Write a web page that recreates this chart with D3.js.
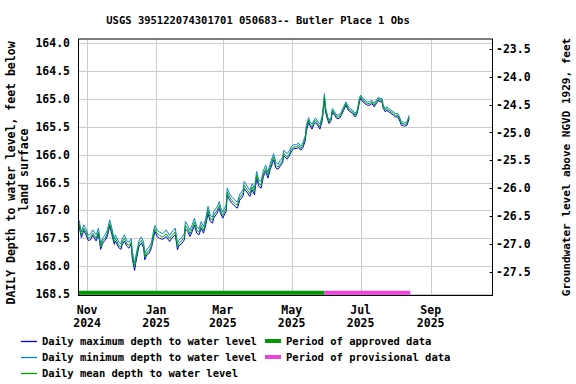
<!DOCTYPE html>
<html><head><meta charset="utf-8">
<script src="https://cdn.jsdelivr.net/npm/d3@7"></script>
<style>body{margin:0;background:#fff}svg{display:block}text{font-family:"DejaVu Sans Mono",monospace;font-weight:bold;fill:#000}</style>
</head><body>
<script>
const title = "USGS 395122074301701 050683-- Butler Place 1 Obs";
const leftTicks = [164.0,164.5,165.0,165.5,166.0,166.5,167.0,167.5,168.0,168.5];
const rightTicks = [-23.5,-24.0,-24.5,-25.0,-25.5,-26.0,-26.5,-27.0,-27.5];
const monthTicks = ["2024-11-01","2025-01-01","2025-03-01","2025-05-01","2025-07-01","2025-09-01"];
const monthLabels = [["Nov","2024"],["Jan","2025"],["Mar","2025"],["May","2025"],["Jul","2025"],["Sep","2025"]];
const datumOffset = 140.6;
const dates = [
"2024-10-25","2024-10-26","2024-10-27","2024-10-29","2024-10-31","2024-11-02","2024-11-04","2024-11-06","2024-11-09","2024-11-11","2024-11-13","2024-11-15","2024-11-17","2024-11-19","2024-11-21","2024-11-23","2024-11-25","2024-11-26","2024-11-29",
"2024-12-01","2024-12-02","2024-12-04","2024-12-06","2024-12-08","2024-12-10","2024-12-11","2024-12-13","2024-12-14","2024-12-16","2024-12-17","2024-12-19","2024-12-21","2024-12-22","2024-12-24","2024-12-26","2024-12-28","2024-12-30","2024-12-31",
"2025-01-02","2025-01-04","2025-01-07","2025-01-10","2025-01-13","2025-01-15","2025-01-18","2025-01-20","2025-01-21","2025-01-24","2025-01-26","2025-01-27","2025-01-29","2025-01-31",
"2025-02-02","2025-02-04","2025-02-06","2025-02-08","2025-02-10","2025-02-12","2025-02-14","2025-02-16","2025-02-18","2025-02-20","2025-02-21","2025-02-24","2025-02-26","2025-02-27",
"2025-03-01","2025-03-04","2025-03-05","2025-03-07","2025-03-09","2025-03-12","2025-03-14","2025-03-16","2025-03-19","2025-03-20","2025-03-23","2025-03-25","2025-03-27","2025-03-29","2025-03-31",
"2025-04-02","2025-04-04","2025-04-06","2025-04-08","2025-04-10","2025-04-12","2025-04-15","2025-04-17","2025-04-19","2025-04-21","2025-04-23","2025-04-24","2025-04-27","2025-04-29",
"2025-05-01","2025-05-03","2025-05-05","2025-05-07","2025-05-09","2025-05-11","2025-05-13","2025-05-14","2025-05-16","2025-05-17","2025-05-19","2025-05-21","2025-05-22","2025-05-24","2025-05-26","2025-05-28","2025-05-29","2025-05-30","2025-05-31",
"2025-06-02","2025-06-03","2025-06-05","2025-06-06","2025-06-08","2025-06-10","2025-06-12","2025-06-14","2025-06-16","2025-06-18","2025-06-20","2025-06-22","2025-06-24","2025-06-26","2025-06-28","2025-06-30",
"2025-07-01","2025-07-03","2025-07-05","2025-07-07","2025-07-09","2025-07-11","2025-07-13","2025-07-15","2025-07-17","2025-07-18","2025-07-20","2025-07-21","2025-07-23","2025-07-24","2025-07-26","2025-07-28","2025-07-30",
"2025-08-01","2025-08-03","2025-08-05","2025-08-06","2025-08-08","2025-08-09","2025-08-11","2025-08-12","2025-08-13"];
const meanDepth = [
167.24,167.36,167.45,167.32,167.39,167.50,167.48,167.41,167.50,167.39,167.66,167.54,167.50,167.41,167.24,167.39,167.57,167.50,167.63,
167.66,167.57,167.50,167.60,167.63,167.57,167.81,168.02,167.90,167.69,167.60,167.54,167.63,167.84,167.75,167.72,167.63,167.42,167.33,
167.42,167.45,167.48,167.42,167.51,167.45,167.39,167.66,167.60,167.54,167.48,167.27,167.33,167.42,
167.33,167.21,167.36,167.39,167.27,167.36,167.21,167.00,167.15,167.18,167.09,167.00,166.91,167.00,
167.09,166.97,166.67,166.76,166.82,166.88,166.91,166.77,166.69,166.55,166.64,166.70,166.58,166.67,166.37,
166.52,166.55,166.34,166.25,166.37,166.22,166.04,166.19,166.22,166.16,166.10,165.98,166.04,165.98,
165.89,165.86,165.86,165.83,165.89,165.83,165.71,165.53,165.38,165.44,165.50,165.41,165.38,165.44,165.50,165.35,165.18,164.96,165.20,
165.35,165.41,165.35,165.20,165.26,165.32,165.32,165.26,165.17,165.08,165.17,165.20,165.23,165.29,165.23,165.02,
164.96,165.02,165.05,165.08,165.08,165.05,165.11,165.05,164.99,165.02,165.02,165.14,165.20,165.17,165.20,165.23,165.26,
165.29,165.29,165.38,165.44,165.44,165.46,165.44,165.38,165.32];
const maxDepth = [
167.28,167.40,167.49,167.36,167.44,167.54,167.53,167.45,167.55,167.43,167.70,167.58,167.54,167.46,167.28,167.44,167.61,167.55,167.67,
167.70,167.62,167.55,167.64,167.68,167.61,167.87,168.08,167.95,167.74,167.64,167.59,167.67,167.89,167.79,167.77,167.67,167.47,167.38,
167.47,167.50,167.52,167.47,167.56,167.50,167.44,167.71,167.64,167.59,167.53,167.33,167.38,167.47,
167.38,167.27,167.41,167.44,167.32,167.41,167.26,167.06,167.20,167.23,167.14,167.05,166.96,167.05,
167.14,167.02,166.73,166.81,166.87,166.93,166.96,166.82,166.74,166.61,166.69,166.75,166.63,166.72,166.43,
166.57,166.60,166.39,166.30,166.42,166.27,166.09,166.24,166.26,166.20,166.14,166.02,166.08,166.02,
165.93,165.89,165.89,165.87,165.92,165.87,165.75,165.57,165.42,165.47,165.54,165.44,165.42,165.47,165.54,165.39,165.22,165.01,165.24,
165.38,165.44,165.38,165.23,165.29,165.35,165.35,165.29,165.20,165.11,165.20,165.23,165.26,165.32,165.26,165.05,
164.99,165.05,165.08,165.11,165.11,165.08,165.14,165.08,165.02,165.05,165.05,165.17,165.23,165.20,165.23,165.26,165.29,
165.32,165.32,165.41,165.47,165.47,165.49,165.47,165.41,165.35];
const minDepth = [
167.18,167.30,167.39,167.26,167.33,167.45,167.42,167.35,167.44,167.32,167.60,167.49,167.44,167.35,167.17,167.33,167.51,167.44,167.57,
167.60,167.51,167.44,167.54,167.57,167.51,167.74,167.95,167.83,167.63,167.54,167.48,167.57,167.78,167.69,167.66,167.57,167.35,167.27,
167.36,167.39,167.42,167.35,167.45,167.39,167.32,167.59,167.54,167.48,167.42,167.20,167.27,167.36,
167.26,167.14,167.30,167.33,167.20,167.29,167.14,166.93,167.09,167.12,167.02,166.94,166.84,166.94,
167.03,166.90,166.60,166.70,166.76,166.82,166.85,166.71,166.63,166.48,166.58,166.64,166.52,166.61,166.30,
166.46,166.48,166.28,166.19,166.31,166.16,165.98,166.13,166.17,166.10,166.05,165.92,165.98,165.93,
165.84,165.82,165.82,165.79,165.85,165.78,165.66,165.47,165.33,165.40,165.45,165.37,165.34,165.40,165.45,165.30,165.12,164.90,165.15,
165.32,165.38,165.32,165.17,165.23,165.29,165.28,165.23,165.14,165.05,165.14,165.17,165.20,165.26,165.20,164.98,
164.93,164.99,165.02,165.05,165.05,165.02,165.08,165.02,164.96,164.99,164.99,165.11,165.17,165.14,165.17,165.20,165.23,
165.26,165.26,165.35,165.41,165.41,165.43,165.41,165.35,165.29];
const approvedPeriod = ["2024-10-24","2025-05-30"];
const provisionalPeriod = ["2025-05-30","2025-08-14"];
const legendLines = ["Daily maximum depth to water level","Daily minimum depth to water level","Daily mean depth to water level"];
const legendBars = ["Period of approved data","Period of provisional data"];

const W = 576, H = 384;
const L = 78.5, R = 492.5, T = 39, B = 295.5;
const parse = d3.utcParse("%Y-%m-%d");
const cMax = "#0000ee", cMin = "#0a84cc", cMean = "#00a000", cAppr = "#009900", cProv = "#ee44dd";

const svg = d3.select("body").append("svg").attr("width", W).attr("height", H);
const x = d3.scaleUtc().domain([Date.UTC(2024,9,24,9), Date.UTC(2025,9,25,17)]).range([L, R]);
const y = d3.scaleLinear().domain([163.92, 168.53]).range([T, B]);
const yR = d3.scaleLinear().domain([datumOffset-163.92, datumOffset-168.53]).range([T, B]);

// grid
const grid = svg.append("g").attr("stroke", "#cccccc").attr("stroke-width", 1);
grid.selectAll(".h").data(leftTicks).join("line")
  .attr("x1", L).attr("x2", R).attr("y1", d => Math.round(y(d))+0.5).attr("y2", d => Math.round(y(d))+0.5);
grid.selectAll(".v").data(monthTicks).join("line")
  .attr("y1", T).attr("y2", B).attr("x1", d => Math.round(x(parse(d)))+0.5).attr("x2", d => Math.round(x(parse(d)))+0.5);

// period bars
const barY = y(168.5) - 1;
[[approvedPeriod, cAppr], [provisionalPeriod, cProv]].forEach(([p, c]) => {
  svg.append("line").attr("x1", Math.max(L, x(parse(p[0])))).attr("x2", x(parse(p[1])))
    .attr("y1", barY).attr("y2", barY).attr("stroke", c).attr("stroke-width", 4);
});

// lines
const pts = dates.map((d, i) => ({t: parse(d), mx: maxDepth[i], mn: minDepth[i], me: meanDepth[i]}));
svg.append("clipPath").attr("id", "c").append("rect").attr("x", L).attr("y", T).attr("width", R-L).attr("height", B-T);
const gl = svg.append("g").attr("clip-path", "url(#c)").attr("fill", "none").attr("stroke-width", 1);
[["mx", cMax], ["mn", cMin], ["me", cMean]].forEach(([k, c]) => {
  gl.append("path").datum(pts).attr("stroke", c)
    .attr("d", d3.line().x(d => x(d.t)).y(d => y(d[k])));
});

// frame
svg.append("rect").attr("x", L).attr("y", T).attr("width", R-L).attr("height", B-T)
  .attr("fill", "none").attr("stroke", "#000").attr("stroke-width", 1);

// left axis labels
svg.append("g").selectAll("text").data(leftTicks).join("text")
  .attr("x", 70).attr("y", d => y(d)).attr("dy", "0.35em").attr("text-anchor", "end")
  .style("font-size", "11.5px").text(d => d.toFixed(1));
// right axis ticks and labels
svg.append("g").selectAll("line").data(rightTicks).join("line")
  .attr("x1", R-3).attr("x2", R).attr("y1", d => Math.round(yR(d))+0.5).attr("y2", d => Math.round(yR(d))+0.5)
  .attr("stroke", "#000");
svg.append("g").selectAll("text").data(rightTicks).join("text")
  .attr("x", 496).attr("y", d => yR(d)).attr("dy", "0.35em").attr("text-anchor", "start")
  .style("font-size", "11.5px").text(d => d.toFixed(1));
// x labels
const gx = svg.append("g").selectAll("g").data(monthTicks).join("g")
  .attr("transform", d => `translate(${x(parse(d))},0)`);
gx.append("text").attr("y", 310).attr("dy", "0.35em").attr("text-anchor", "middle").style("font-size", "11.5px")
  .text((d, i) => monthLabels[i][0]);
gx.append("text").attr("y", 323).attr("dy", "0.35em").attr("text-anchor", "middle").style("font-size", "11.5px")
  .text((d, i) => monthLabels[i][1]);

// title
svg.append("text").attr("x", 258).attr("y", 20).attr("dy", "0.35em").attr("text-anchor", "middle")
  .style("font-size", "10.5px").text(title);

// axis titles
svg.append("text").attr("transform", "translate(11,173) rotate(-90)").attr("dy", "0.35em").attr("text-anchor", "middle")
  .style("font-size", "11.5px").text("DAILY Depth to water level, feet below");
svg.append("text").attr("transform", "translate(24,170) rotate(-90)").attr("dy", "0.35em").attr("text-anchor", "middle")
  .style("font-size", "11.5px").text("land surface");
svg.append("text").attr("transform", "translate(566,167) rotate(-90)").attr("dy", "0.35em").attr("text-anchor", "middle")
  .style("font-size", "11px").text("Groundwater level above NGVD 1929, feet");

// legend
const ly = [341, 357, 373];
legendLines.forEach((t, i) => {
  const c = [cMax, cMin, cMean][i];
  svg.append("line").attr("x1", 21).attr("x2", 37).attr("y1", ly[i]+0.5).attr("y2", ly[i]+0.5).attr("stroke", c).attr("stroke-width", 1.3);
  svg.append("text").attr("x", 42).attr("y", ly[i]).attr("dy", "0.35em").style("font-size", "10.5px").text(t);
});
legendBars.forEach((t, i) => {
  const c = [cAppr, cProv][i];
  svg.append("line").attr("x1", 265).attr("x2", 281).attr("y1", ly[i]).attr("y2", ly[i]).attr("stroke", c).attr("stroke-width", 4);
  svg.append("text").attr("x", 286).attr("y", ly[i]).attr("dy", "0.35em").style("font-size", "10.5px").text(t);
});
</script>
</body></html>
